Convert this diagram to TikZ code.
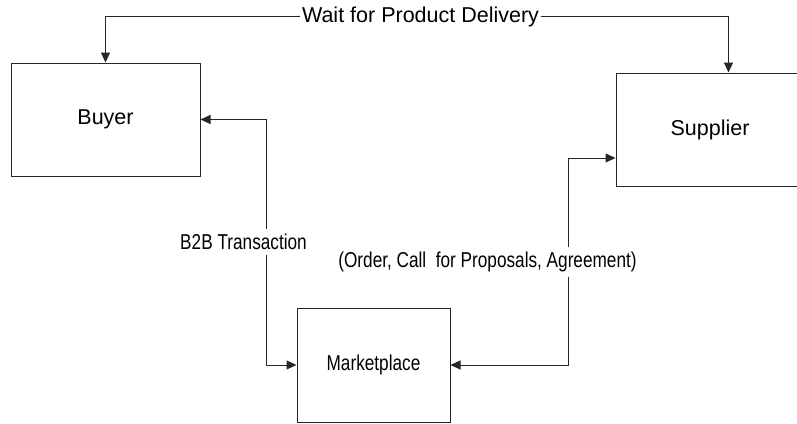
\documentclass[tikz,border=0pt]{standalone}
\usepackage{fontspec}
\setmainfont{Liberation Sans}
\newfontfamily\narrowsans[FakeStretch=0.8]{Liberation Sans}
\usetikzlibrary{arrows.meta,calc}
\pgfdeclarelayer{background}
\pgfsetlayers{background,main}
\tikzset{
  party/.style={draw=black!85, line width=1pt, fill=white, inner sep=0pt,
    font=\fontsize{21.5}{25}\selectfont},
  narrowtext/.style={font=\narrowsans\fontsize{21.5}{25}\selectfont},
  flow/.style={draw=black!85, line width=1pt,
    arrows={Triangle[length=10pt,width=9pt]-Triangle[length=10pt,width=9pt]}},
  flowto/.style={draw=black!85, line width=1pt, -{Triangle[length=10pt,width=9pt]}},
  tag/.style={fill=white, inner xsep=2pt, inner ysep=5pt,
    font=\fontsize{21.5}{25}\selectfont}
}
\begin{document}
\begin{tikzpicture}[x=1pt,y=-1pt]
  \useasboundingbox (0,0) rectangle (797,423);

  % parties
  \node[party, minimum width=189pt, minimum height=113pt] (buyer) at (105.5,119.5) {Buyer};
  \node[party, minimum width=188pt, minimum height=113pt] (supplier) at (710,129.5) {Supplier};
  \node[party, narrowtext, minimum width=153pt, minimum height=114pt] (market) at (373.5,365) {Marketplace};

  % labels
  \node[tag] (wait) at (420.5,16.5) {Wait for Product Delivery};
  \node[tag, narrowtext] (b2b) at (243.5,242) {B2B Transaction};
  \node[tag, narrowtext] (order) at (487.5,262) {(Order, Call\ \ for Proposals, Agreement)};

  % route points
  \coordinate (supTop) at ($(supplier.north west)+(113,0)$);
  \coordinate (supIn) at ($(supplier.north west)+(0,85.5)$);
  \coordinate (bTurn) at (266,365);
  \coordinate (sTurn) at (568,365);

  \begin{pgfonlayer}{background}
    \draw[flowto] (wait.center) -| (buyer.north);
    \draw[flowto] (wait.center) -| (supTop);
    \draw[flow] (buyer.east) -| (bTurn) -- (market.west);
    \draw[flow] (supIn) -| (sTurn) -- (market.east);
  \end{pgfonlayer}
\end{tikzpicture}
\end{document}
